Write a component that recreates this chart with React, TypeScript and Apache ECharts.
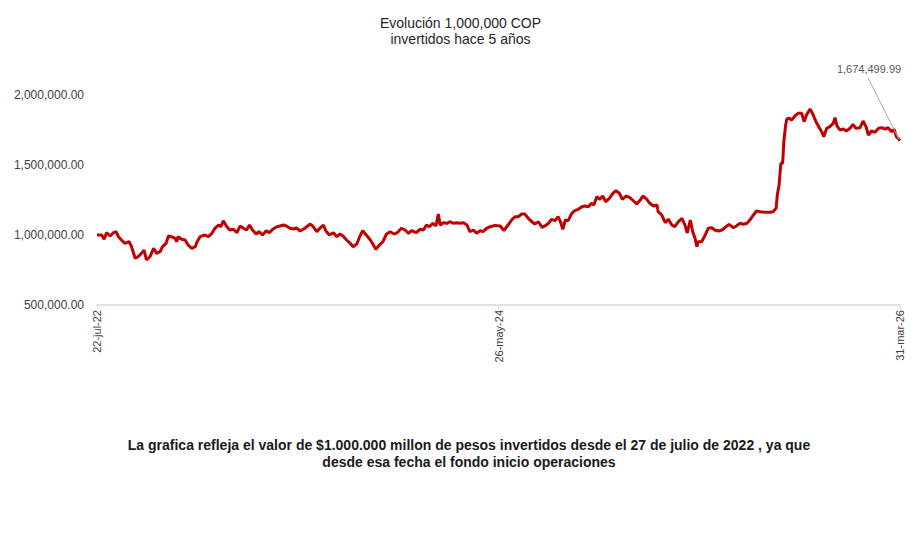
import React, { useEffect, useRef } from "react";
import * as echarts from "echarts";

// Day offsets from 22-jul-2022 and the fund value (COP)
const startDate = Date.UTC(2022, 6, 22);
const totalDays = 1348;
const labelIntervalDays = 674;

const dayOffsets = [
  0, 8, 12, 16, 22, 27, 32, 36, 41, 47, 54, 58, 64, 69, 77, 79, 83, 89, 95, 100,
  106, 110, 116, 120, 125, 131, 134, 136, 142, 148, 153, 159, 165, 168, 173, 181, 187, 193, 198, 204,
  208, 212, 218, 223, 229, 235, 240, 246, 251, 256, 261, 267, 272, 278, 284, 289, 295, 302, 307, 313,
  318, 324, 330, 335, 341, 349, 358, 363, 369, 374, 380, 384, 390, 397, 402, 408, 413, 419, 425, 430,
  436, 441, 446, 452, 458, 464, 468, 474, 480, 486, 492, 499, 504, 511, 517, 523, 528, 536, 542, 548,
  553, 558, 564, 569, 573, 576, 581, 587, 593, 598, 604, 609, 615, 621, 626, 632, 637, 643, 648, 654,
  660, 668, 677, 683, 690, 696, 702, 707, 713, 718, 724, 730, 735, 741, 747, 752, 758, 763, 769, 774,
  778, 782, 786, 791, 797, 802, 808, 814, 819, 825, 830, 834, 839, 844, 849, 854, 860, 866, 871, 877,
  882, 888, 894, 899, 906, 912, 917, 923, 928, 934, 940, 942, 948, 954, 959, 965, 970, 976, 982, 987,
  991, 996, 1000, 1004, 1007, 1009, 1015, 1021, 1026, 1032, 1037, 1043, 1049, 1054, 1061, 1068, 1074, 1079, 1085, 1091,
  1096, 1102, 1107, 1113, 1121, 1130, 1135, 1140, 1142, 1145, 1148, 1151, 1153, 1156, 1158, 1162, 1166, 1172, 1177, 1183,
  1187, 1191, 1197, 1201, 1207, 1213, 1217, 1220, 1225, 1230, 1236, 1239, 1242, 1247, 1253, 1258, 1264, 1269, 1274, 1281,
  1286, 1291, 1295, 1300, 1306, 1312, 1317, 1323, 1328, 1334, 1338, 1342, 1348,
];

const values = [
  1000000, 1000000, 969300, 1016400, 992900, 1014300, 1023600, 987900, 964300, 940700,
  952100, 916400, 833600, 845000, 880700, 892900, 821400, 845000, 905000, 869300,
  880700, 916400, 940700, 992900, 987900, 976400, 952100, 987900, 969300, 964300,
  928600, 905000, 916400, 952100, 987900, 1000000, 987900, 1012100, 1047900, 1071400,
  1059300, 1102100, 1059300, 1035700, 1040700, 1016400, 1064300, 1047900, 1035700, 1071400,
  1035700, 1007100, 1023600, 1000000, 1030700, 1016400, 1040700, 1059300, 1064300, 1071400,
  1064300, 1047900, 1042900, 1050000, 1028600, 1047900, 1078600, 1059300, 1023600, 1047900,
  1071400, 1030700, 1000000, 1016400, 987900, 1007100, 992900, 964300, 940700, 916400,
  935700, 987900, 1030700, 1000000, 969300, 928600, 897900, 928600, 952100, 1007100,
  1023600, 1007100, 1016400, 1047900, 1035700, 1012100, 1030700, 1016400, 1040700, 1035700,
  1071400, 1059300, 1083600, 1064300, 1150000, 1071400, 1087900, 1083600, 1095000, 1083600,
  1087900, 1083600, 1087900, 1071400, 1023600, 1035700, 1012100, 1030700, 1023600, 1047900,
  1059300, 1067900, 1064300, 1030700, 1071400, 1107100, 1130700, 1130700, 1150000, 1150000,
  1119300, 1095000, 1078600, 1095000, 1055000, 1064300, 1083600, 1112100, 1102100, 1130700,
  1095000, 1040700, 1107100, 1102100, 1155000, 1173600, 1183600, 1202100, 1207100, 1202100,
  1226400, 1214300, 1273600, 1255000, 1278600, 1237900, 1262100, 1297900, 1316400, 1297900,
  1255000, 1278600, 1269300, 1250000, 1221400, 1250000, 1278600, 1255000, 1226400, 1207100,
  1214300, 1166400, 1142900, 1087900, 1112100, 1071400, 1059300, 1095000, 1119300, 1071400,
  1014300, 1107100, 1023600, 976400, 916400, 952100, 952100, 1000000, 1047900, 1052100,
  1035700, 1028600, 1035700, 1052100, 1076400, 1052100, 1066400, 1083600, 1076400, 1083600,
  1107100, 1142900, 1171400, 1166400, 1162100, 1162100, 1166400, 1190700, 1285700, 1357100,
  1512100, 1512100, 1666400, 1785700, 1828600, 1833600, 1821400, 1852100, 1869300, 1869300,
  1809300, 1857100, 1900000, 1869300, 1809300, 1762100, 1733600, 1702100, 1762100, 1773600,
  1797900, 1837900, 1780700, 1750000, 1757100, 1742900, 1762100, 1790700, 1762100, 1766400,
  1814300, 1773600, 1714300, 1742900, 1733600, 1762100, 1766400, 1757100, 1766400, 1737900,
  1755000, 1702100, 1674499.99,
];

const yTicks = [500000, 1000000, 1500000, 2000000];
const monthsEs = ["ene", "feb", "mar", "abr", "may", "jun", "jul", "ago", "sep", "oct", "nov", "dic"];

const titleText = "Evolución 1,000,000 COP\ninvertidos hace 5 años";
const footerText =
  "La grafica refleja el valor de $1.000.000 millon de pesos invertidos desde el 27 de julio de 2022 , ya que\ndesde esa fecha el fondo inicio operaciones";

const FONT = "Liberation Sans, Arial, sans-serif";

function fmtDate(offset: number): string {
  const d = new Date(startDate + offset * 86400000);
  const dd = String(d.getUTCDate()).padStart(2, "0");
  const yy = String(d.getUTCFullYear() % 100).padStart(2, "0");
  return `${dd}-${monthsEs[d.getUTCMonth()]}-${yy}`;
}

function fmtNum(v: number): string {
  return v.toLocaleString("en-US", { minimumFractionDigits: 2, maximumFractionDigits: 2 });
}

export default function App() {
  const ref = useRef<HTMLDivElement>(null);
  useEffect(() => {
    if (!ref.current) return;
    const chart = echarts.init(ref.current, null, { renderer: "svg" });
    const lineData = dayOffsets.map((d, i) => [d, values[i]]);
    const last = lineData[lineData.length - 1];
    chart.setOption({
      animation: false,
      backgroundColor: "#ffffff",
      textStyle: { fontFamily: FONT },
      title: [
        {
          text: titleText,
          left: "center",
          top: 10,
          textStyle: {
            fontSize: 14,
            fontWeight: "normal",
            color: "#262626",
            lineHeight: 16,
            fontFamily: FONT,
          },
        },
        {
          text: footerText,
          top: 431,
          left: 464,
          textAlign: "center",
          textStyle: {
            fontSize: 14,
            fontWeight: "bold",
            color: "#1a1a1a",
            lineHeight: 17,
            fontFamily: FONT,
          },
        },
      ],
      grid: { left: 97, right: 21, top: 95, bottom: 247, containLabel: false },
      xAxis: {
        type: "value",
        min: 0,
        max: totalDays,
        interval: labelIntervalDays,
        splitLine: { show: false },
        axisLine: { show: true, lineStyle: { color: "#d9d9d9", width: 1.5 } },
        axisTick: { show: true, length: 4, lineStyle: { color: "#d9d9d9" } },
        axisLabel: {
          rotate: 90,
          fontSize: 11,
          color: "#404040",
          margin: 5,
          formatter: (v: number) => fmtDate(v),
          fontFamily: FONT,
        },
      },
      yAxis: {
        type: "value",
        min: yTicks[0],
        max: yTicks[yTicks.length - 1],
        interval: yTicks[1] - yTicks[0],
        splitLine: { show: false },
        axisLine: { show: false },
        axisTick: { show: false },
        axisLabel: {
          fontSize: 12,
          color: "#404040",
          margin: 13,
          formatter: (v: number) => fmtNum(v),
          fontFamily: FONT,
        },
      },
      series: [
        {
          type: "line",
          data: lineData,
          showSymbol: false,
          symbol: "none",
          lineStyle: { color: "#c00000", width: 3 },
          itemStyle: { color: "#c00000" },
          z: 2,
        },
      ],
    });

    // Leader-line annotation anchored to the last data point via the chart's own scales
    const p = chart.convertToPixel({ gridIndex: 0 }, last) as number[];
    if (p && isFinite(p[0]) && isFinite(p[1])) {
      chart.setOption({
        graphic: [
          {
            type: "line",
            shape: { x1: p[0] - 1, y1: p[1] - 1, x2: p[0] - 32, y2: p[1] - 63 },
            style: { stroke: "#a6a6a6", lineWidth: 1 },
            z: 10,
          },
          {
            type: "text",
            x: p[0] - 31,
            y: p[1] - 72,
            style: {
              text: fmtNum(last[1]),
              fill: "#595959",
              font: `11px ${FONT}`,
              align: "center",
              verticalAlign: "middle",
            },
            z: 10,
          },
        ],
      });
    }
    return () => chart.dispose();
  }, []);
  return (
    <div
      ref={ref}
      style={{ position: "fixed", left: 0, top: 0, width: 921, height: 552 }}
    />
  );
}
